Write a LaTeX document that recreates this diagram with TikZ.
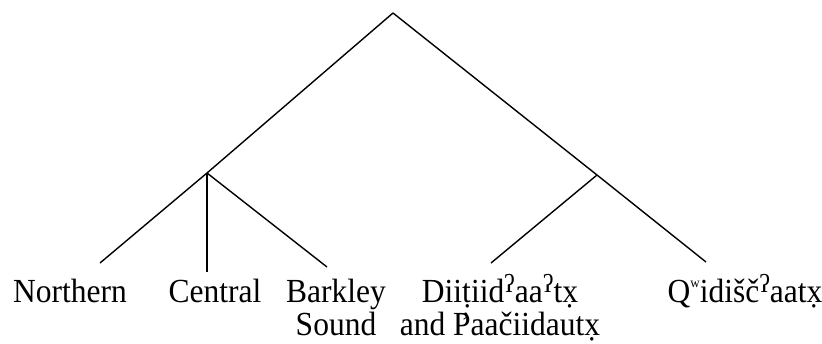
\documentclass[tikz,border=0pt]{standalone}
\usepackage{fontspec}
\setmainfont{Liberation Serif}
\newcommand{\supw}{\smash{\raisebox{0.42em}{\fontsize{13}{13}\selectfont w}}}
\newcommand{\gst}{\smash{\raisebox{8.5pt}{\fontsize{24}{24}\selectfont ʔ}}}
\newcommand{\Pej}{\makebox[0pt][l]{\hspace{0.26em}\smash{\raisebox{0.13em}{\fontsize{26}{26}\selectfont ’}}}P}
\begin{document}
\begin{tikzpicture}[x=1pt,y=-1pt,
  branch/.style={line width=1.4pt},
  leaf/.style={font=\fontsize{31.5}{31.3}\selectfont, align=center, anchor=base, inner sep=0pt, yscale=1.07}]
\useasboundingbox (0,0) rectangle (822,343);
\coordinate (root) at (393,13);
\coordinate (L) at (207,173);
\coordinate (R) at (597,175);
\coordinate (nN) at (100,263);
\coordinate (nC) at (207,272);
\coordinate (nB) at (327,267);
\coordinate (nD) at (491,263);
\coordinate (nQ) at (706,262);
\draw[branch] (root) -- (L);
\draw[branch] (root) -- (R);
\draw[branch] (R) -- (nQ);
\draw[branch] (R) -- (nD);
\draw[branch] (L) -- (nN);
\draw[branch] (L) -- (nC);
\draw[branch] (L) -- (nB);
\node[leaf] (tN) at (70,302) {Northern};
\node[leaf] (tC) at (215,302) {Central};
\node[leaf] (tB) at (336,335.5) {Barkley\\Sound};
\node[leaf] (tD) at (500,335.5) {Diiṭiid\gst aa\gst tx̣\\and \Pej aačiidautx̣};
\node[leaf] (tQ) at (745,302) {Q\supw idišč\gst aatx̣};
\end{tikzpicture}
\end{document}
